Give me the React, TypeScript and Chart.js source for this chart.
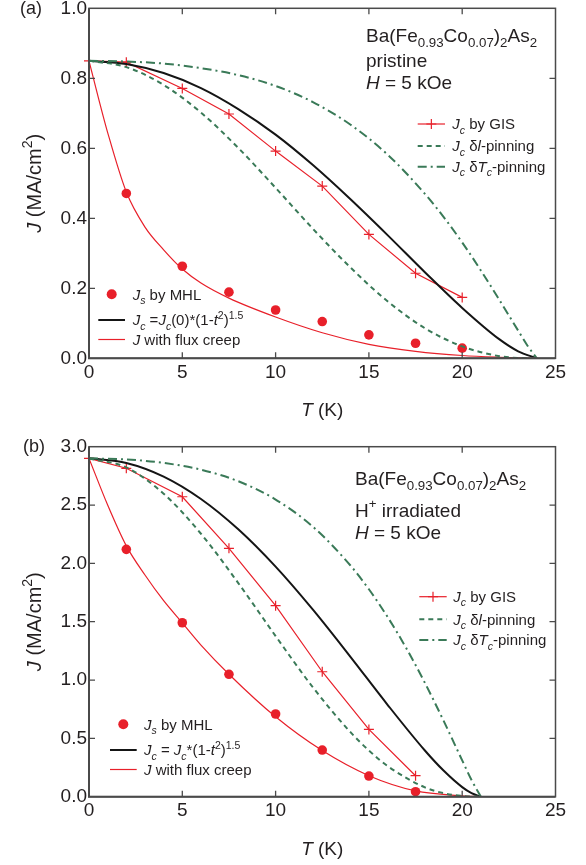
import React, { useEffect, useRef } from "react";
import { Chart, registerables } from "chart.js";
Chart.register(...registerables);

const FONT = '"Liberation Sans", Arial, Helvetica, sans-serif';
const RED = "#e8202a";
const GREEN = "#3a7a58";
const BLACK = "#151515";
const AXIS = "#4a4a4a";
const TEXT = "#231f20";

// ---------- Panel (a): pristine ----------
const xTicks = [0, 5, 10, 15, 20, 25];
const yTicks_a = [0, 0.2, 0.4, 0.6, 0.8, 1.0];
const powerT_a = [0, 2, 4, 6, 8, 10, 12, 14, 16, 18, 20, 22, 23, 24];
const power_a = [0.85, 0.841, 0.815, 0.772, 0.712, 0.639, 0.552, 0.455, 0.352, 0.246, 0.144, 0.054, 0.02, 0];
const dlT_a = [0, 2, 4, 6, 8, 10, 12, 14, 16, 18, 20, 22, 23, 24];
const dl_a = [0.85, 0.832, 0.781, 0.702, 0.601, 0.487, 0.37, 0.26, 0.163, 0.086, 0.034, 0.006, 0.001, 0];
const dTcT_a = [0, 2, 4, 6, 8, 10, 12, 14, 16, 18, 19, 20, 21, 22, 23, 23.5, 24];
const dTc_a = [0.85, 0.848, 0.842, 0.829, 0.809, 0.778, 0.732, 0.668, 0.582, 0.47, 0.404, 0.331, 0.251, 0.166, 0.079, 0.036, 0];
const creepT_a = [0, 0.5, 1, 2, 3, 4, 5, 6, 7.5, 10, 12.5, 15, 17.5, 20, 22, 24];
const creep_a = [0.85, 0.745, 0.645, 0.475, 0.375, 0.31, 0.255, 0.215, 0.172, 0.118, 0.073, 0.04, 0.02, 0.008, 0.003, 0];
const gisT_a = [0, 2, 5, 7.5, 10, 12.5, 15, 17.5, 20];
const gis_a = [0.85, 0.846, 0.771, 0.698, 0.592, 0.492, 0.354, 0.243, 0.174];
const mhlT_a = [2, 5, 7.5, 10, 12.5, 15, 17.5, 20];
const mhl_a = [0.471, 0.263, 0.189, 0.138, 0.105, 0.067, 0.043, 0.029];

// ---------- Panel (b): H+ irradiated ----------
const yTicks_b = [0, 0.5, 1.0, 1.5, 2.0, 2.5, 3.0];
const powerT_b = [0, 2, 4, 6, 8, 10, 12, 14, 16, 18, 19, 20, 20.5, 21];
const power_b = [2.9, 2.861, 2.744, 2.552, 2.292, 1.972, 1.603, 1.201, 0.788, 0.396, 0.224, 0.082, 0.03, 0];
const dlT_b = [0, 2, 4, 6, 8, 10, 12, 14, 15, 16, 18, 19, 20, 21];
const dl_b = [2.9, 2.822, 2.597, 2.254, 1.831, 1.377, 0.937, 0.555, 0.396, 0.263, 0.08, 0.03, 0.006, 0];
const dTcT_b = [0, 2, 4, 6, 8, 10, 12, 14, 15, 16, 17, 18, 19, 20, 20.5, 21];
const dTc_b = [2.9, 2.891, 2.861, 2.803, 2.704, 2.547, 2.314, 1.984, 1.778, 1.541, 1.274, 0.976, 0.652, 0.311, 0.143, 0];
const creepT_b = [0, 1, 2, 3, 4, 5, 6, 7.5, 10, 12.5, 15, 17.5, 20, 21];
const creep_b = [2.9, 2.5, 2.15, 1.9, 1.68, 1.49, 1.3, 1.05, 0.685, 0.395, 0.18, 0.05, 0.008, 0];
const gisT_b = [0, 2, 5, 7.5, 10, 12.5, 15, 17.5];
const gis_b = [2.9, 2.815, 2.571, 2.129, 1.637, 1.071, 0.577, 0.18];
const mhlT_b = [2, 5, 7.5, 10, 12.5, 15, 17.5];
const mhl_b = [2.12, 1.491, 1.049, 0.709, 0.4, 0.177, 0.043];

type Seg = { t: string; i?: boolean; sub?: boolean; sup?: boolean };

const J: Seg = { t: "J", i: true };
const cSub: Seg = { t: "c", i: true, sub: true };

const legendR: Seg[][] = [
  [J, cSub, { t: " by GIS" }],
  [J, cSub, { t: " δ" }, { t: "l", i: true }, { t: "-pinning" }],
  [J, cSub, { t: " δ" }, { t: "T", i: true }, { t: "c", i: true, sub: true }, { t: "-pinning" }],
];
const legendL_a: Seg[][] = [
  [J, { t: "s", i: true, sub: true }, { t: " by MHL" }],
  [J, cSub, { t: " =" }, J, cSub, { t: "(0)*(1-" }, { t: "t", i: true }, { t: "2", sup: true }, { t: ")" }, { t: "1.5", sup: true }],
  [J, { t: " with flux creep" }],
];
const legendL_b: Seg[][] = [
  [J, { t: "s", i: true, sub: true }, { t: " by MHL" }],
  [J, cSub, { t: " = " }, J, cSub, { t: "*(1-" }, { t: "t", i: true }, { t: "2", sup: true }, { t: ")" }, { t: "1.5", sup: true }],
  [J, { t: " with flux creep" }],
];
const formula: Seg[] = [
  { t: "Ba(Fe" }, { t: "0.93", sub: true }, { t: "Co" }, { t: "0.07", sub: true }, { t: ")" }, { t: "2", sub: true }, { t: "As" }, { t: "2", sub: true },
];
const annot_a: Seg[][] = [formula, [{ t: "pristine" }], [{ t: "H", i: true }, { t: " = 5 kOe" }]];
const annot_b: Seg[][] = [formula, [{ t: "H" }, { t: "+", sup: true }, { t: " irradiated" }], [{ t: "H", i: true }, { t: " = 5 kOe" }]];
const yTitle: Seg[] = [J, { t: " (MA/cm" }, { t: "2", sup: true }, { t: ")" }];
const xTitle: Seg[] = [{ t: "T", i: true }, { t: " (K)" }];

function segFont(s: Seg, size: number) {
  const sz = s.sub || s.sup ? size * 0.7 : size;
  return `${s.i ? "italic " : ""}${sz}px ${FONT}`;
}
function richWidth(ctx: CanvasRenderingContext2D, segs: Seg[], size: number) {
  let w = 0;
  for (const s of segs) {
    ctx.font = segFont(s, size);
    w += ctx.measureText(s.t).width;
  }
  return w;
}
function drawRich(ctx: CanvasRenderingContext2D, x: number, y: number, segs: Seg[], size: number) {
  let cx = x;
  ctx.textBaseline = "alphabetic";
  ctx.textAlign = "left";
  ctx.fillStyle = TEXT;
  for (const s of segs) {
    ctx.font = segFont(s, size);
    const dy = s.sub ? size * 0.28 : s.sup ? -size * 0.45 : 0;
    ctx.fillText(s.t, cx, y + dy);
    cx += ctx.measureText(s.t).width;
  }
}

type Sample = { color: string; width: number; dash?: number[]; marker?: "cross" | "circle"; line?: boolean };

function drawSample(ctx: CanvasRenderingContext2D, x1: number, x2: number, y: number, s: Sample) {
  ctx.save();
  if (s.line !== false) {
    ctx.strokeStyle = s.color;
    ctx.lineWidth = s.width;
    ctx.setLineDash(s.dash || []);
    ctx.beginPath();
    ctx.moveTo(x1, y);
    ctx.lineTo(x2, y);
    ctx.stroke();
  }
  ctx.setLineDash([]);
  const mx = (x1 + x2) / 2;
  if (s.marker === "cross") {
    ctx.strokeStyle = s.color;
    ctx.lineWidth = 1.2;
    ctx.beginPath();
    ctx.moveTo(mx - 5, y);
    ctx.lineTo(mx + 5, y);
    ctx.moveTo(mx, y - 5);
    ctx.lineTo(mx, y + 5);
    ctx.stroke();
  } else if (s.marker === "circle") {
    ctx.fillStyle = s.color;
    ctx.beginPath();
    ctx.arc(mx, y, 5, 0, Math.PI * 2);
    ctx.fill();
  }
  ctx.restore();
}

const pts = (xs: number[], ys: number[]) => xs.map((x, i) => ({ x, y: ys[i] }));

type PanelCfg = {
  label: string;
  height: number;
  top: number;
  padTop: number;
  xAxisH: number;
  yMax: number;
  yTicks: number[];
  series: {
    power: [number[], number[]];
    dl: [number[], number[]];
    dTc: [number[], number[]];
    creep: [number[], number[]];
    gis: [number[], number[]];
    mhl: [number[], number[]];
  };
  annot: Seg[][];
  annotX: number;
  annotY: number[];
  legR: { x1: number; x2: number; tx: number; ys: number[] };
  legLSegs: Seg[][];
  legL: { mx: number; x1: number; x2: number; tx: number; ys: number[] };
  labelX: number;
};

const panelA: PanelCfg = {
  label: "(a)",
  height: 430,
  top: 0,
  padTop: 8.3,
  xAxisH: 71.7,
  yMax: 1.0,
  yTicks: yTicks_a,
  series: {
    power: [powerT_a, power_a],
    dl: [dlT_a, dl_a],
    dTc: [dTcT_a, dTc_a],
    creep: [creepT_a, creep_a],
    gis: [gisT_a, gis_a],
    mhl: [mhlT_a, mhl_a],
  },
  annot: annot_a,
  annotX: 366,
  annotY: [41.7, 66.7, 89.3],
  legR: { x1: 417.7, x2: 445, tx: 452.3, ys: [124, 146, 166.7] },
  legLSegs: legendL_a,
  legL: { mx: 111.7, x1: 98.3, x2: 125, tx: 132.7, ys: [294.3, 320, 339.5] },
  labelX: 20,
};

const panelB: PanelCfg = {
  label: "(b)",
  height: 435,
  top: 430,
  padTop: 16.7,
  xAxisH: 68.3,
  yMax: 3.0,
  yTicks: yTicks_b,
  series: {
    power: [powerT_b, power_b],
    dl: [dlT_b, dl_b],
    dTc: [dTcT_b, dTc_b],
    creep: [creepT_b, creep_b],
    gis: [gisT_b, gis_b],
    mhl: [mhlT_b, mhl_b],
  },
  annot: annot_b,
  annotX: 355,
  annotY: [55, 86.7, 109.3],
  legR: { x1: 419.3, x2: 446.7, tx: 453.3, ys: [166.7, 189.3, 210] },
  legLSegs: legendL_b,
  legL: { mx: 123.3, x1: 110, x2: 136.7, tx: 144, ys: [294.3, 320, 339.5] },
  labelX: 23,
};

const DASH = [5, 4];
const DASHDOT = [9, 4, 2, 4];

function Panel({ cfg }: { cfg: PanelCfg }) {
  const ref = useRef<HTMLCanvasElement | null>(null);
  useEffect(() => {
    if (!ref.current) return;
    const s = cfg.series;
    const decor = {
      id: "decor",
      afterDatasetsDraw(chart: any) {
        const ctx: CanvasRenderingContext2D = chart.ctx;
        const { left, right, top, bottom } = chart.chartArea;
        ctx.save();
        ctx.strokeStyle = AXIS;
        ctx.lineWidth = 1.5;
        ctx.strokeRect(left, top, right - left, bottom - top);
        ctx.lineWidth = 2;
        ctx.beginPath();
        ctx.moveTo(left, top);
        ctx.lineTo(left, bottom);
        ctx.lineTo(right, bottom);
        ctx.stroke();
        ctx.lineWidth = 1.3;
        const tl = 6;
        ctx.beginPath();
        for (const t of chart.scales.x.ticks) {
          const px = chart.scales.x.getPixelForValue(t.value);
          if (px <= left + 1 || px >= right - 1) continue;
          ctx.moveTo(px, bottom);
          ctx.lineTo(px, bottom - tl);
          ctx.moveTo(px, top);
          ctx.lineTo(px, top + tl);
        }
        for (const t of chart.scales.y.ticks) {
          const py = chart.scales.y.getPixelForValue(t.value);
          if (py <= top + 1 || py >= bottom - 1) continue;
          ctx.moveTo(left, py);
          ctx.lineTo(left + tl, py);
          ctx.moveTo(right, py);
          ctx.lineTo(right - tl, py);
        }
        ctx.stroke();
        ctx.restore();
      },
      afterDraw(chart: any) {
        const ctx: CanvasRenderingContext2D = chart.ctx;
        const { left, right, top, bottom } = chart.chartArea;
        ctx.save();
        // panel label
        ctx.font = `18px ${FONT}`;
        ctx.fillStyle = TEXT;
        ctx.textBaseline = "middle";
        ctx.textAlign = "left";
        ctx.fillText(cfg.label, cfg.labelX, top + 0.5);
        // axis titles
        const xw = richWidth(ctx, xTitle, 19);
        drawRich(ctx, (left + right) / 2 - xw / 2, bottom + 58, xTitle, 19);
        ctx.save();
        ctx.translate(41, (top + bottom) / 2);
        ctx.rotate(-Math.PI / 2);
        const yw = richWidth(ctx, yTitle, 20);
        drawRich(ctx, -yw / 2, 0, yTitle, 20);
        ctx.restore();
        // annotation
        cfg.annot.forEach((segs, i) => drawRich(ctx, cfg.annotX, cfg.annotY[i], segs, 19));
        // right legend
        const rs: Sample[] = [
          { color: RED, width: 1.2, marker: "cross" },
          { color: GREEN, width: 2, dash: DASH },
          { color: GREEN, width: 2, dash: DASHDOT },
        ];
        legendR.forEach((segs, i) => {
          const y = cfg.legR.ys[i];
          drawSample(ctx, cfg.legR.x1, cfg.legR.x2, y, rs[i]);
          drawRich(ctx, cfg.legR.tx, y + 5.3, segs, 15);
        });
        // left legend
        const ls: Sample[] = [
          { color: RED, width: 1, marker: "circle", line: false },
          { color: BLACK, width: 2 },
          { color: RED, width: 1.2 },
        ];
        cfg.legLSegs.forEach((segs, i) => {
          const y = cfg.legL.ys[i];
          if (i === 0) {
            drawSample(ctx, cfg.legL.mx - 1, cfg.legL.mx + 1, y, ls[i]);
          } else {
            drawSample(ctx, cfg.legL.x1, cfg.legL.x2, y, ls[i]);
          }
          drawRich(ctx, cfg.legL.tx, y + 5.3, segs, 15);
        });
        ctx.restore();
      },
    };

    const chart = new Chart(ref.current, {
      type: "line",
      data: {
        datasets: [
          {
            label: "dTc",
            data: pts(s.dTc[0], s.dTc[1]),
            borderColor: GREEN,
            borderWidth: 2,
            borderDash: DASHDOT,
            pointRadius: 0,
            cubicInterpolationMode: "monotone",
            fill: false,
          },
          {
            label: "dl",
            data: pts(s.dl[0], s.dl[1]),
            borderColor: GREEN,
            borderWidth: 2,
            borderDash: DASH,
            pointRadius: 0,
            cubicInterpolationMode: "monotone",
            fill: false,
          },
          {
            label: "power",
            data: pts(s.power[0], s.power[1]),
            borderColor: BLACK,
            borderWidth: 2,
            pointRadius: 0,
            cubicInterpolationMode: "monotone",
            fill: false,
          },
          {
            label: "creep",
            data: pts(s.creep[0], s.creep[1]),
            borderColor: RED,
            borderWidth: 1.2,
            pointRadius: 0,
            cubicInterpolationMode: "monotone",
            fill: false,
          },
          {
            label: "gis",
            data: pts(s.gis[0], s.gis[1]),
            borderColor: RED,
            borderWidth: 1.2,
            pointStyle: "cross",
            pointRadius: 5,
            pointBorderWidth: 1.2,
            pointBorderColor: RED,
            tension: 0,
            fill: false,
            clip: false,
          } as any,
          {
            label: "mhl",
            data: pts(s.mhl[0], s.mhl[1]),
            showLine: false,
            pointStyle: "circle",
            pointRadius: 4.8,
            pointBackgroundColor: RED,
            pointBorderColor: RED,
            pointBorderWidth: 0,
            fill: false,
          },
        ],
      },
      options: {
        responsive: false,
        animation: false,
        devicePixelRatio: 1,
        layout: { padding: { left: 0, right: 30.5, top: cfg.padTop, bottom: 0 } },
        plugins: { legend: { display: false }, tooltip: { enabled: false } },
        scales: {
          x: {
            type: "linear",
            min: 0,
            max: 25,
            afterBuildTicks: (sc: any) => {
              sc.ticks = xTicks.map((v) => ({ value: v }));
            },
            ticks: {
              color: TEXT,
              font: { family: FONT, size: 19 },
              padding: 3,
              maxRotation: 0,
              callback: (v: any) => String(v),
            },
            grid: { display: false, drawTicks: false },
            border: { display: false },
            afterFit: (sc: any) => {
              sc.height = cfg.xAxisH;
              sc.paddingLeft = 0;
              sc.paddingRight = 0;
            },
          },
          y: {
            type: "linear",
            min: 0,
            max: cfg.yMax,
            afterBuildTicks: (sc: any) => {
              sc.ticks = cfg.yTicks.map((v) => ({ value: v }));
            },
            ticks: {
              color: TEXT,
              font: { family: FONT, size: 19 },
              padding: 2,
              callback: (v: any) => Number(v).toFixed(1),
            },
            grid: { display: false, drawTicks: false },
            border: { display: false },
            afterFit: (sc: any) => {
              sc.width = 89;
              sc.paddingTop = 0;
              sc.paddingBottom = 0;
            },
          },
        },
      },
      plugins: [decor],
    } as any);
    return () => chart.destroy();
  }, [cfg]);
  return (
    <canvas
      ref={ref}
      width={586}
      height={cfg.height}
      style={{ position: "absolute", left: 0, top: cfg.top, width: 586, height: cfg.height }}
    />
  );
}

export default function App() {
  return (
    <div style={{ position: "absolute", left: 0, top: 0, width: 586, height: 865, background: "#fff" }}>
      <Panel cfg={panelA} />
      <Panel cfg={panelB} />
    </div>
  );
}
